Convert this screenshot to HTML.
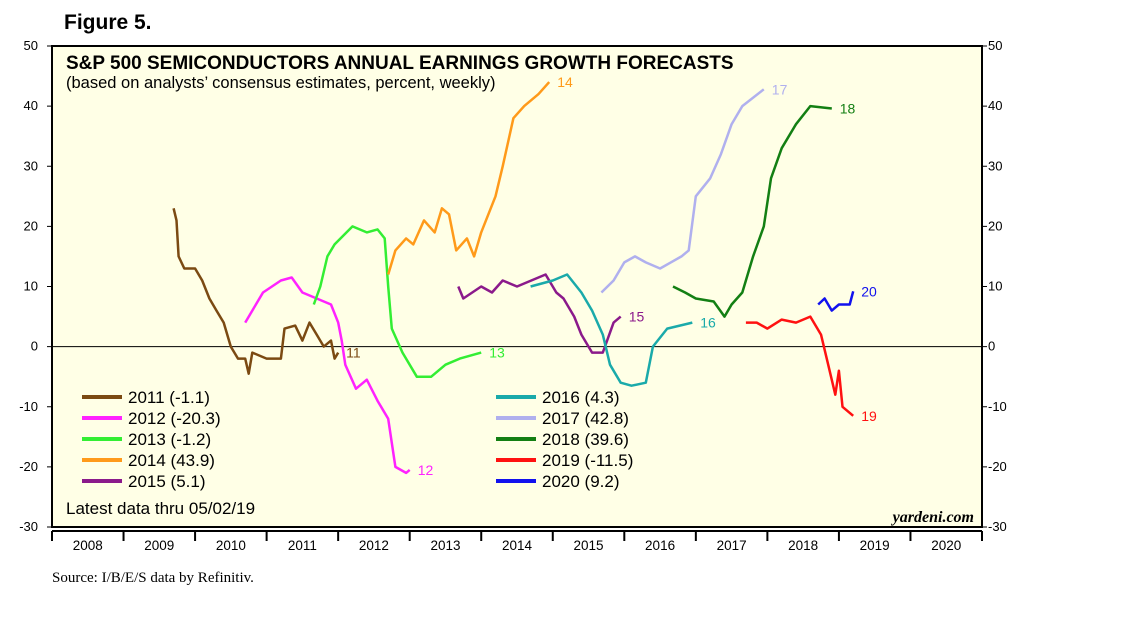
<!DOCTYPE html>
<html><head><meta charset="utf-8"><style>
body{margin:0;background:#fff;width:1138px;height:621px;overflow:hidden;font-family:"Liberation Sans",sans-serif}
</style></head><body>
<svg id="c" width="1138" height="621" xmlns="http://www.w3.org/2000/svg"></svg>
<script>
const yTicks=[50,40,30,20,10,0,-10,-20,-30];
const years=[2008,2009,2010,2011,2012,2013,2014,2015,2016,2017,2018,2019,2020];
const seriesNames=["11","12","13","14","15","16","17","18","19","20"];
const legendLabels=["2011 (-1.1)","2012 (-20.3)","2013 (-1.2)","2014 (43.9)","2015 (5.1)","2016 (4.3)","2017 (42.8)","2018 (39.6)","2019 (-11.5)","2020 (9.2)"];
const colors=["#7b4a12","#ff22ff","#33ee33","#ff9a1a","#8b1a8b","#1aaaaa","#b0b0ee","#137f13","#ff1111","#1111ee"];
const s11=[[2009.7,23],[2009.74,21],[2009.77,15],[2009.85,13],[2010.0,13],[2010.1,11],[2010.2,8],[2010.3,6],[2010.4,4],[2010.5,0],[2010.6,-2],[2010.7,-2],[2010.75,-4.5],[2010.8,-1],[2011.0,-2],[2011.2,-2],[2011.25,3],[2011.4,3.5],[2011.5,1],[2011.6,4],[2011.7,2],[2011.8,0],[2011.9,1],[2011.95,-2],[2012.0,-1]];
const s12=[[2010.7,4],[2010.8,6],[2010.95,9],[2011.2,11],[2011.35,11.5],[2011.5,9],[2011.7,8],[2011.9,7],[2012.0,4],[2012.05,1],[2012.1,-3],[2012.25,-7],[2012.4,-5.5],[2012.55,-9],[2012.7,-12],[2012.8,-20],[2012.95,-21],[2013.0,-20.5]];
const s13=[[2011.66,7],[2011.75,10],[2011.85,15],[2011.95,17],[2012.2,20],[2012.4,19],[2012.55,19.5],[2012.65,18],[2012.7,10],[2012.75,3],[2012.9,-1],[2013.1,-5],[2013.3,-5],[2013.5,-3],[2013.7,-2],[2014.0,-1]];
const s14=[[2012.7,12],[2012.8,16],[2012.95,18],[2013.05,17],[2013.2,21],[2013.35,19],[2013.45,23],[2013.55,22],[2013.65,16],[2013.8,18],[2013.9,15],[2014.0,19],[2014.2,25],[2014.3,30],[2014.45,38],[2014.6,40],[2014.8,42],[2014.95,44]];
const s15=[[2013.68,10],[2013.75,8],[2014.0,10],[2014.15,9],[2014.3,11],[2014.5,10],[2014.7,11],[2014.9,12],[2015.05,9],[2015.15,8],[2015.3,5],[2015.4,2],[2015.55,-1],[2015.7,-1],[2015.85,4],[2015.95,5]];
const s16=[[2014.69,10],[2015.0,11],[2015.2,12],[2015.4,9],[2015.55,6],[2015.7,2],[2015.8,-3],[2015.95,-6],[2016.1,-6.5],[2016.3,-6],[2016.4,0],[2016.6,3],[2016.95,4]];
const s17=[[2015.68,9],[2015.85,11],[2016.0,14],[2016.15,15],[2016.3,14],[2016.5,13],[2016.65,14],[2016.8,15],[2016.9,16],[2017.0,25],[2017.2,28],[2017.35,32],[2017.5,37],[2017.65,40],[2017.95,42.8]];
const s18=[[2016.68,10],[2016.85,9],[2017.0,8],[2017.25,7.5],[2017.4,5],[2017.5,7],[2017.65,9],[2017.8,15],[2017.95,20],[2018.05,28],[2018.2,33],[2018.4,37],[2018.6,40],[2018.9,39.6]];
const s19=[[2017.7,4],[2017.85,4],[2018.0,3],[2018.2,4.5],[2018.4,4],[2018.6,5],[2018.75,2],[2018.85,-3],[2018.95,-8],[2019.0,-4],[2019.05,-10],[2019.2,-11.5]];
const s20=[[2018.71,7],[2018.8,8],[2018.9,6],[2019.0,7],[2019.15,7],[2019.2,9.2]];
const allSeries=[s11,s12,s13,s14,s15,s16,s17,s18,s19,s20];

const L=52,R=982,T=46,B=527;
const x=t=>L+(t-2008)*(R-L)/13;
const y=v=>T+(50-v)*(B-T)/80;
const svg=document.getElementById('c');
function add(tag,attrs,text){const e=document.createElementNS('http://www.w3.org/2000/svg',tag);for(const k in attrs)e.setAttribute(k,attrs[k]);if(text!==undefined)e.textContent=text;svg.appendChild(e);return e;}

let e;
e=add('rect',{x:L,y:T,width:R-L,height:B-T,fill:'#ffffe6',stroke:'none'});

e=add('line',{x1:L,x2:R,y1:y(0),y2:y(0),stroke:'#000','stroke-width':1});

yTicks.forEach(v=>{
  e=add('text',{x:38,y:y(v)+4,'text-anchor':'end','font-size':13},String(v));
  
  e=add('text',{x:988,y:y(v)+4,'font-size':13},String(v));
  
  add('line',{x1:L-5,x2:L,y1:y(v),y2:y(v),stroke:'#000'});
  add('line',{x1:R,x2:R+5,y1:y(v),y2:y(v),stroke:'#000'});
});
e=add('line',{x1:L,x2:R,y1:B+4,y2:B+4,stroke:'#000','stroke-width':2});

years.forEach(yr=>{
  add('line',{x1:x(yr),x2:x(yr),y1:B+4,y2:B+14,stroke:'#000','stroke-width':2});
  e=add('text',{x:x(yr+0.5),y:B+23,'text-anchor':'middle','font-size':13.5},String(yr));
  
});
add('line',{x1:R,x2:R,y1:B+4,y2:B+14,stroke:'#000','stroke-width':2});

allSeries.forEach((s,i)=>{
  const d=s.map((p,j)=>(j?'L':'M')+x(p[0]).toFixed(1)+','+y(p[1]).toFixed(1)).join('');
  e=add('path',{d:d,fill:'none',stroke:colors[i],'stroke-width':2.5,'stroke-linejoin':'round'});
  
  const last=s[s.length-1];
  e=add('text',{x:x(last[0])+8,y:y(last[1])+5,fill:colors[i],'font-size':14},seriesNames[i]);
  
  const col=i<5?0:1,row=i%5;
  const lx=col?496:82,ly=397+row*21;
  e=add('line',{x1:lx,x2:lx+40,y1:ly,y2:ly,stroke:colors[i],'stroke-width':4});
  
  e=add('text',{x:lx+46,y:ly+6,'font-size':17},legendLabels[i]);
  
});

e=add('rect',{x:L,y:T,width:R-L,height:B-T,fill:'none',stroke:'#000','stroke-width':2});

e=add('text',{x:64,y:29,'font-size':21,'font-weight':'bold'},'Figure 5.');

e=add('text',{x:66,y:69,'font-size':19,'font-weight':'bold'},'S&P 500 SEMICONDUCTORS ANNUAL EARNINGS GROWTH FORECASTS');

e=add('text',{x:66,y:88,'font-size':16.5},'(based on analysts’ consensus estimates, percent, weekly)');

e=add('text',{x:66,y:514,'font-size':17},'Latest data thru 05/02/19');

e=add('text',{x:974,y:522,'font-size':16,'font-style':'italic','font-weight':'bold','text-anchor':'end','font-family':'Liberation Serif, serif'},'yardeni.com');

e=add('text',{x:52,y:582,'font-size':15,'font-family':'Liberation Serif, serif'},'Source: I/B/E/S data by Refinitiv.');

</script>
</body></html>
